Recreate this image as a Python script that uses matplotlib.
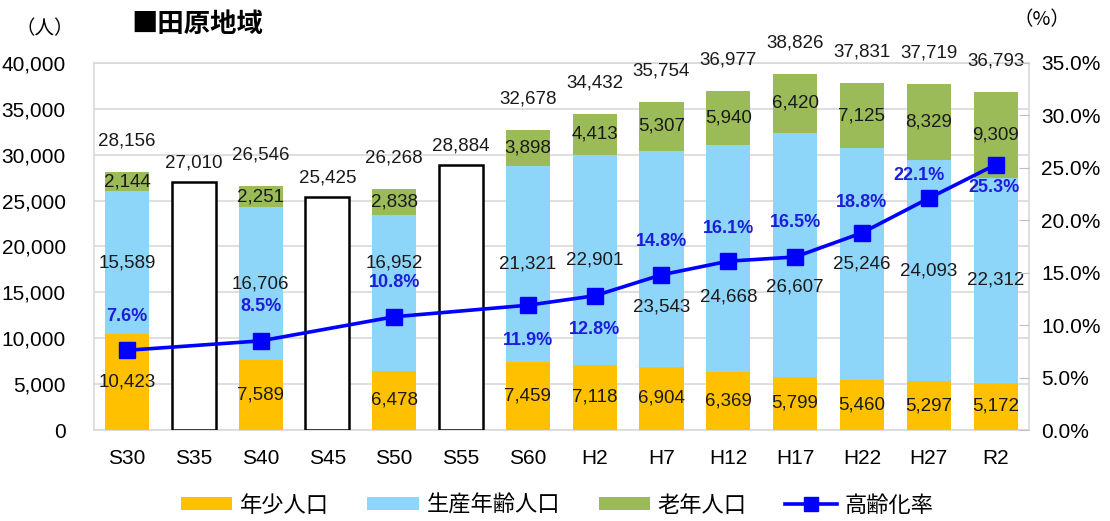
import numpy as np
import matplotlib
matplotlib.use("Agg")
import matplotlib.pyplot as plt
from matplotlib.patches import Patch
from matplotlib.lines import Line2D

plt.rcParams['font.family'] = ['Liberation Sans', 'Noto Sans CJK JP', 'DejaVu Sans']

# ---- data ----
years = ['S30', 'S35', 'S40', 'S45', 'S50', 'S55', 'S60', 'H2', 'H7', 'H12', 'H17', 'H22', 'H27', 'R2']
nan = np.nan
young = [10423, nan, 7589, nan, 6478, nan, 7459, 7118, 6904, 6369, 5799, 5460, 5297, 5172]
working = [15589, nan, 16706, nan, 16952, nan, 21321, 22901, 23543, 24668, 26607, 25246, 24093, 22312]
elderly = [2144, nan, 2251, nan, 2838, nan, 3898, 4413, 5307, 5940, 6420, 7125, 8329, 9309]
totals = [28156, 27010, 26546, 25425, 26268, 28884, 32678, 34432, 35754, 36977, 38826, 37831, 37719, 36793]
aging = [7.6, nan, 8.5, nan, 10.8, nan, 11.9, 12.8, 14.8, 16.1, 16.5, 18.8, 22.1, 25.3]

series_names = ['年少人口', '生産年齢人口', '老年人口', '高齢化率']

# ---- styles ----
C_YOUNG = '#FFC000'
C_WORK = '#8DD6FA'
C_OLD = '#9BBB59'
C_LINE = '#0000FF'
C_PCT = '#1E1ED8'
GRID = '#D9D9D9'

# label offsets in pixels (style only)
work_lbl_dy = {4: -30, 8: 48, 9: 39, 10: 32}          # + = downward
pct_lbl_off = {0: (0, -34), 2: (0, -34), 4: (0, -34), 6: (0, 35), 7: (0, 34),
               8: (0, -33), 9: (0, -33), 10: (0, -34), 11: (0, -30),
               12: (-10, -23), 13: (-2, 23)}

PX = 72.0 / 100.0

fig = plt.figure(figsize=(11.10, 5.21), dpi=100)
ax = fig.add_axes([93.5 / 1110, 1 - 430 / 521, (1029 - 93.5) / 1110, (430 - 63) / 521])
ax2 = ax.twinx()

x = np.arange(len(years))
y_arr = np.array(young, dtype=float)
w_arr = np.array(working, dtype=float)
e_arr = np.array(elderly, dtype=float)
t_arr = np.array(totals, dtype=float)
a_arr = np.array(aging, dtype=float)
stacked = ~np.isnan(y_arr)
bw = 0.66

# outline-only bars (years without breakdown)
ax.bar(x[~stacked], t_arr[~stacked], width=bw, facecolor='white', edgecolor='black',
       linewidth=1.8, zorder=3)
# stacked bars
ax.bar(x[stacked], y_arr[stacked], width=bw, color=C_YOUNG, zorder=3)
ax.bar(x[stacked], w_arr[stacked], width=bw, bottom=y_arr[stacked], color=C_WORK, zorder=3)
ax.bar(x[stacked], e_arr[stacked], width=bw, bottom=(y_arr + w_arr)[stacked], color=C_OLD, zorder=3)

ax.set_xlim(-0.5, len(years) - 0.5)
ax.set_ylim(0, 40000)
ax.set_yticks(np.arange(0, 40001, 5000))
ax.set_yticklabels([f'{v:,}' for v in range(0, 40001, 5000)])
ax.set_xticks(x)
ax.set_xticklabels(years)
ax.yaxis.grid(True, color=GRID, linewidth=1.2, zorder=0)
ax.set_axisbelow(True)
for s in ['left', 'top', 'right', 'bottom']:
    ax.spines[s].set_color(GRID)
    ax.spines[s].set_linewidth(1.2)
ax.tick_params(axis='y', length=0, pad=20, labelsize=15)
ax.tick_params(axis='x', length=0, pad=14, labelsize=15)

# data labels
lbl_kw = dict(ha='center', va='center', fontsize=13.5, color='#1A1A1A', zorder=6)
for i in range(len(years)):
    if stacked[i]:
        ax.text(x[i], y_arr[i] / 2, f'{int(y_arr[i]):,}', **lbl_kw)
        ax.annotate(f'{int(w_arr[i]):,}', (x[i], y_arr[i] + w_arr[i] / 2),
                    xytext=(0, -work_lbl_dy.get(i, 0) * PX), textcoords='offset points',
                    **lbl_kw)
        ax.text(x[i], y_arr[i] + w_arr[i] + e_arr[i] / 2, f'{int(e_arr[i]):,}', **lbl_kw)
        ax.annotate(f'{int(t_arr[i]):,}', (x[i], t_arr[i]), xytext=(0, 31 * PX),
                    textcoords='offset points', **lbl_kw)
    else:
        ax.annotate(f'{int(t_arr[i]):,}', (x[i], t_arr[i]), xytext=(0, 19 * PX),
                    textcoords='offset points', **lbl_kw)

# aging rate line
valid = ~np.isnan(a_arr)
ax2.plot(x[valid], a_arr[valid], color=C_LINE, linewidth=2.6, marker='s', markersize=11,
         markerfacecolor=C_LINE, markeredgecolor=C_LINE, zorder=5)
ax2.set_ylim(0, 35)
ax2.set_yticks(np.arange(0, 35.1, 5))
ax2.set_yticklabels([f'{v:.1f}%' for v in np.arange(0, 35.1, 5)])
ax2.tick_params(axis='y', direction='in', length=7, color='#BFBFBF', pad=9, labelsize=15)
for s in ['left', 'top', 'right', 'bottom']:
    ax2.spines[s].set_visible(False)
for i in np.where(valid)[0]:
    dx, dy = pct_lbl_off.get(i, (0, -34))
    ax2.annotate(f'{a_arr[i]:.1f}%', (x[i], a_arr[i]), xytext=(dx * PX, -dy * PX),
                 textcoords='offset points', ha='center', va='center', fontsize=13,
                 fontweight='bold', color=C_PCT, zorder=7)

# titles
fig.text(131 / 1110, 1 - 24 / 521, '■田原地域', fontsize=19, fontweight='bold',
         family=['Noto Sans CJK JP'], ha='left', va='center')
fig.text(45 / 1110, 1 - 29 / 521, '（人）', fontsize=14, family=['Noto Sans CJK JP'],
         ha='center', va='center')
fig.text(1042 / 1110, 1 - 20 / 521, '（%）', fontsize=14, family=['Noto Sans CJK JP'],
         ha='center', va='center')

# legend
handles = [Patch(facecolor=C_YOUNG), Patch(facecolor=C_WORK), Patch(facecolor=C_OLD),
           Line2D([0], [0], color=C_LINE, linewidth=2.6, marker='s', markersize=10)]
fig.legend(handles, series_names, loc='center', bbox_to_anchor=(557 / 1110, 1 - 505 / 521),
           ncol=4, frameon=False, handlelength=2.3, handleheight=0.55, handletextpad=0.35,
           columnspacing=1.75, prop={'family': ['Noto Sans CJK JP'], 'size': 16})

fig.savefig('out.png', dpi=100)
